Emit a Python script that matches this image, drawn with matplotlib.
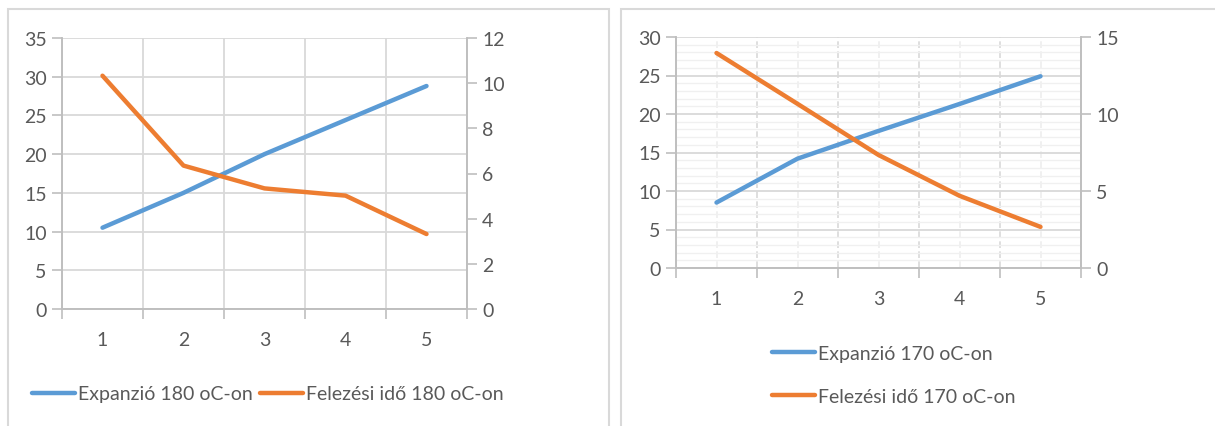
import numpy as np
import matplotlib.pyplot as plt
from matplotlib.patches import Rectangle

plt.rcParams['font.family'] = ['Lato', 'DejaVu Sans']

# data
mintak = [1, 2, 3, 4, 5]
exp_180 = [10.5, 15.0, 20.0, 24.4, 28.8]
fel_180 = [10.33, 6.35, 5.34, 5.02, 3.32]
exp_170 = [8.5, 14.2, 17.8, 21.3, 24.9]
fel_170 = [13.96, 10.66, 7.34, 4.69, 2.67]

kek = '#5b9bd5'
narancs = '#ed7d31'
szurke = '#595959'
tengely = '#bfbfbf'
racs = '#d9d9d9'
fs = 14

fig = plt.figure(figsize=(12.15, 4.27), dpi=100)

# chart frames
fig.patches.append(Rectangle((8 / 1215, -0.1), (609 - 8) / 1215, 1.1 - 10 / 427,
                             transform=fig.transFigure, fill=False, ec='#d9d9d9', lw=1.5))
fig.patches.append(Rectangle((621 / 1215, -0.1), 0.6, 1.1 - 10 / 427,
                             transform=fig.transFigure, fill=False, ec='#d9d9d9', lw=1.5))


def alap(ax, ax2, ymax1, ystep1, ymax2, ystep2, dashed):
    hatar = np.arange(0.5, 6.0, 1.0)
    ax.set_xlim(0.5, 5.5)
    ax.set_xticks(hatar)
    ax.set_xticklabels([])
    ax.set_xticks(mintak, minor=True)
    ax.set_xticklabels([str(m) for m in mintak], minor=True)
    ax.tick_params(axis='x', which='major', length=7, width=1.2, color=tengely)
    ax.tick_params(axis='x', which='minor', length=0, pad=16, labelsize=fs, labelcolor=szurke)
    ax.set_ylim(0, ymax1)
    ax.set_yticks(np.arange(0, ymax1 + 0.1, ystep1))
    ax.tick_params(axis='y', length=7, width=1.2, color=tengely, labelsize=fs,
                   labelcolor=szurke, pad=4)
    ax2.set_ylim(0, ymax2)
    ax2.set_yticks(np.arange(0, ymax2 + 0.1, ystep2))
    ax2.tick_params(axis='y', length=7, width=1.2, color=tengely, labelsize=fs,
                    labelcolor=szurke, pad=4)
    for a in (ax, ax2):
        a.spines['top'].set_visible(False)
        for s in ('left', 'right', 'bottom'):
            a.spines[s].set_color(tengely)
            a.spines[s].set_linewidth(1.2)
    ax.grid(axis='y', which='major', color=racs, lw=1.3)
    if dashed:
        ax.grid(axis='x', which='major', color=racs, lw=1.2, ls=(0, (4, 2)))
        ax.grid(axis='x', which='minor', color='#ededed', lw=1.2, ls=(0, (4, 2)))
        ax.set_yticks(np.arange(0, ymax1 + 0.1, 1), minor=True)
        ax.tick_params(axis='y', which='minor', length=0)
        ax.grid(axis='y', which='minor', color='#f0f0f0', lw=1.0)
    else:
        ax.grid(axis='x', which='major', color=racs, lw=1.3)
    ax.set_axisbelow(True)


# left chart: 180 oC
ax1 = fig.add_axes([62 / 1215, 117 / 427, 405 / 1215, 271 / 427])
ax1b = ax1.twinx()
alap(ax1, ax1b, 35, 5, 12, 2, False)
l1, = ax1.plot(mintak, exp_180, color=kek, lw=3.2, solid_capstyle='round',
               label='Expanzió 180 oC-on')
l2, = ax1b.plot(mintak, fel_180, color=narancs, lw=3.2, solid_capstyle='round',
                label='Felezési idő 180 oC-on')
fig.legend([l1, l2], [l1.get_label(), l2.get_label()], loc='center',
           bbox_to_anchor=(268 / 1215, 1 - 395 / 427), ncol=2, frameon=False,
           fontsize=fs, labelcolor=szurke, handlelength=2.2, handletextpad=0.15,
           columnspacing=0.4)

# right chart: 170 oC
ax2 = fig.add_axes([676 / 1215, 158 / 427, 405 / 1215, 231 / 427])
ax2b = ax2.twinx()
alap(ax2, ax2b, 30, 5, 15, 5, True)
l3, = ax2.plot(mintak, exp_170, color=kek, lw=3.2, solid_capstyle='round',
               label='Expanzió 170 oC-on')
l4, = ax2b.plot(mintak, fel_170, color=narancs, lw=3.2, solid_capstyle='round',
                label='Felezési idő 170 oC-on')
fig.legend([l3, l4], [l3.get_label(), l4.get_label()], loc='center left',
           bbox_to_anchor=(755 / 1215, 1 - 376 / 427), ncol=1, frameon=False,
           fontsize=fs, labelcolor=szurke, handlelength=2.2, handletextpad=0.15,
           labelspacing=1.35)

fig.savefig('out.png', dpi=100)
